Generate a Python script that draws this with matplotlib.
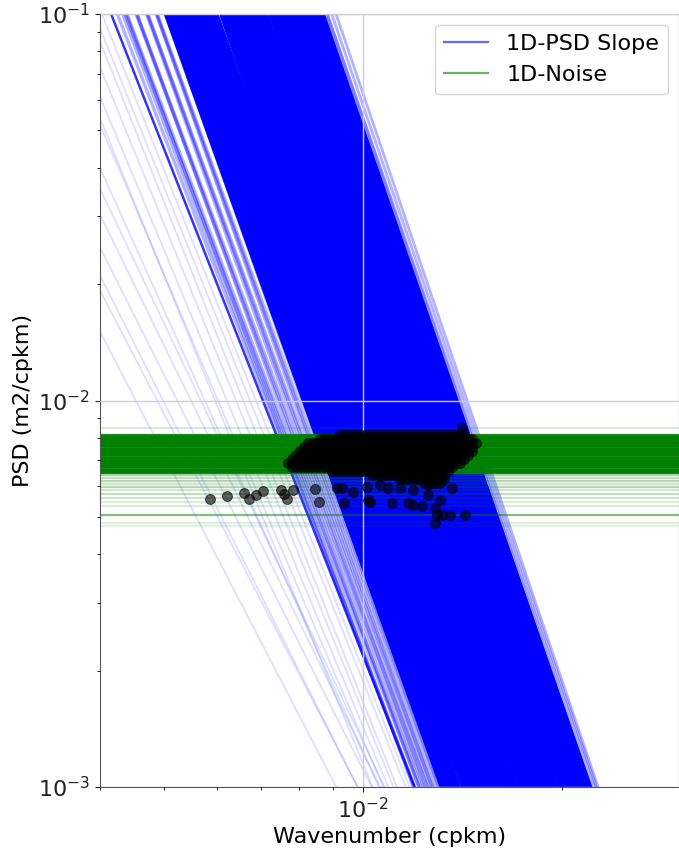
import numpy as np
import matplotlib
matplotlib.use("Agg")
import matplotlib.pyplot as plt
from matplotlib.lines import Line2D
from matplotlib.ticker import NullFormatter

# wavenumber range of the fitted spectra (cpkm)
k_range = np.array([0.004, 0.03])

# fitted 1D-PSD slopes: wavenumber where each fit crosses 1e-2 m2/cpkm, and its spectral slope
faint_k0 = [0.00453, 0.00488, 0.00498, 0.00523, 0.00549, 0.00568, 0.00576,
            0.00597, 0.00603, 0.00622, 0.00642, 0.00658, 0.00674, 0.00688]
faint_slope = [3.3, 3.3, 3.4, 3.4, 3.5, 3.6, 3.8, 4.2, 4.0, 4.1, 4.2, 4.3, 4.25, 4.3]

steep_k0 = [0.00705]
steep_slope = [4.36]

mid_k0 = [0.00713, 0.00718, 0.00723, 0.00728, 0.00733, 0.00743, 0.00748, 0.00754, 0.00764,
          0.00770, 0.00775, 0.00786, 0.00791, 0.00797, 0.00808, 0.00819, 0.00831, 0.00842]
mid_slope = [4.45, 4.55, 4.60, 4.50, 4.50, 4.70, 4.60, 4.55, 4.75, 4.70, 4.65, 4.80,
             4.75, 4.70, 4.85, 4.75, 4.80, 4.85]

core_k0 = [0.00817, 0.00826, 0.00834, 0.00843, 0.00852, 0.00861, 0.00870, 0.00879, 0.00888, 0.00897,
           0.00907, 0.00916, 0.00926, 0.00935, 0.00945, 0.00955, 0.00965, 0.00975, 0.00985, 0.00996,
           0.01006, 0.01017, 0.01027, 0.01038, 0.01049, 0.01060, 0.01071, 0.01082, 0.01094, 0.01105,
           0.01117, 0.01128, 0.01140, 0.01152, 0.01164, 0.01176, 0.01189, 0.01201, 0.01214, 0.01227,
           0.01240, 0.01253, 0.01266, 0.01279, 0.01292, 0.01306, 0.01320, 0.01333, 0.01347, 0.01362,
           0.01376]
core_slope = [4.80, 4.85, 4.78, 4.90, 4.82, 4.88, 4.95, 4.80, 4.86, 4.92,
              4.84, 4.98, 4.81, 4.89, 4.93, 4.85, 4.79, 4.96, 4.88, 4.83,
              4.91, 4.99, 4.86, 4.82, 4.94, 4.88, 5.00, 4.84, 4.90, 4.97,
              4.87, 4.92, 4.85, 5.01, 4.89, 4.94, 4.88, 4.96, 4.91, 5.02,
              4.87, 4.95, 4.99, 4.90, 4.93, 5.00, 4.94, 4.97, 4.92, 4.98,
              4.95]

edge_k0 = [0.01388, 0.01398, 0.01405, 0.01420, 0.01435]
edge_slope = [4.98, 5.0, 4.95, 5.0, 5.05]

# noise floor levels (m2/cpkm)
noise_dense = [0.00814, 0.00807, 0.00800, 0.00793, 0.00786, 0.00779, 0.00772, 0.00765,
               0.00758, 0.00751, 0.00744, 0.00738, 0.00731, 0.00725, 0.00718, 0.00712,
               0.00706, 0.00699, 0.00693, 0.00687, 0.00681, 0.00675, 0.00669, 0.00663,
               0.00657, 0.00653]
noise_sparse = [0.00849, 0.00642, 0.00630, 0.00618, 0.00607, 0.00597, 0.00587, 0.00573,
                0.00560, 0.00546, 0.00533, 0.00505, 0.00482, 0.00474]
noise_alpha = [0.15, 0.35, 0.25, 0.3, 0.2, 0.3, 0.2, 0.25, 0.2, 0.15, 0.15, 0.5, 0.12, 0.12]

# crossing points of slope fits and noise floor: dense cluster, one row per PSD level
cloud_grid = [0.00770, 0.00781, 0.00792, 0.00802, 0.00814, 0.00825, 0.00837, 0.00848, 0.00860,
              0.00872, 0.00884, 0.00896, 0.00909, 0.00922, 0.00936, 0.00949, 0.00962, 0.00975,
              0.00989, 0.01003, 0.01017, 0.01031, 0.01046, 0.01060, 0.01075, 0.01090, 0.01105,
              0.01120, 0.01136, 0.01152, 0.01169, 0.01185, 0.01202, 0.01219, 0.01236, 0.01253,
              0.01270, 0.01288, 0.01306, 0.01324, 0.01343, 0.01362, 0.01381, 0.01400, 0.01420,
              0.01440, 0.01460, 0.01480]
cloud_levels = [0.00814, 0.00795, 0.00776, 0.00758, 0.00740, 0.00723, 0.00706,
                0.00689, 0.00673, 0.00657, 0.00642, 0.00626, 0.00612]
cloud_k_lo = [0.00922, 0.00860, 0.00825, 0.00810, 0.00800, 0.00790, 0.00780,
              0.00770, 0.00780, 0.00890, 0.01020, 0.01130, 0.01220]
cloud_k_hi = [0.01430, 0.01470, 0.01480, 0.01470, 0.01460, 0.01440, 0.01430,
              0.01410, 0.01380, 0.01360, 0.01340, 0.01330, 0.01310]

# scattered crossing points below the cluster
outlier_k = [0.00586, 0.00622, 0.00661, 0.00672, 0.00688, 0.00705, 0.00751, 0.00759, 0.00767,
             0.00783, 0.00845, 0.00857, 0.00913, 0.00936, 0.00929, 0.00965, 0.01013, 0.01017,
             0.01024, 0.01060, 0.01090, 0.01105, 0.01136, 0.01169, 0.01189, 0.01189, 0.01227,
             0.01253, 0.01253, 0.01284, 0.01293, 0.01315, 0.01352, 0.01425, 0.01284, 0.01306,
             0.01362, 0.01410]
outlier_psd = [0.00556, 0.00566, 0.00576, 0.00556, 0.00570, 0.00583, 0.00587, 0.00573, 0.00556,
               0.00587, 0.00590, 0.00546, 0.00594, 0.00543, 0.00594, 0.00580, 0.00597, 0.00553,
               0.00546, 0.00604, 0.00594, 0.00543, 0.00594, 0.00543, 0.00587, 0.00537, 0.00533,
               0.00604, 0.00570, 0.00527, 0.00505, 0.00505, 0.00505, 0.00505, 0.00482, 0.00553,
               0.00594, 0.00849]

fig = plt.figure(figsize=(6.79, 8.51), dpi=100)
ax = fig.add_axes([0.1473, 0.0752, 0.8527, 0.9083])


def slope_lines(k0s, slopes, alpha, lw):
    for k0, s in zip(k0s, slopes):
        ax.plot(k_range, 1e-2 * (k_range / k0) ** (-s), color="blue", alpha=alpha, lw=lw, zorder=1)


slope_lines(faint_k0, faint_slope, 0.13, 1.3)
slope_lines(mid_k0, mid_slope, 0.3, 2.4)
slope_lines(core_k0, core_slope, 1.0, 5.0)
slope_lines(edge_k0, edge_slope, 0.3, 2.0)
slope_lines(steep_k0, steep_slope, 0.8, 1.8)

for level in noise_dense:
    ax.axhline(level, color="green", alpha=0.92, lw=2.2, zorder=1.5)
for level, a in zip(noise_sparse, noise_alpha):
    ax.axhline(level, color="green", alpha=a, lw=1.6, zorder=1.5)

cloud_k = []
cloud_psd = []
for level, lo, hi in zip(cloud_levels, cloud_k_lo, cloud_k_hi):
    row = [k for k in cloud_grid if lo <= k <= hi]
    cloud_k += row
    cloud_psd += [level] * len(row)
ax.scatter(cloud_k + outlier_k, cloud_psd + outlier_psd, s=50, color="black",
           alpha=0.6, edgecolors="black", linewidths=0.8, zorder=3)

ax.set_xscale("log")
ax.set_yscale("log")
ax.set_xlim(k_range[0], k_range[1])
ax.set_ylim(1e-3, 1e-1)
ax.xaxis.set_minor_formatter(NullFormatter())
ax.yaxis.set_minor_formatter(NullFormatter())
ax.grid(True, which="major", color="#cfcfcf", lw=1.0, zorder=2.5)
ax.set_axisbelow(False)
for sp in ax.spines.values():
    sp.set_color("#555555")
ax.tick_params(labelsize=16, colors="#222222")

ax.set_xlabel("Wavenumber (cpkm)", fontsize=16)
ax.set_ylabel("PSD (m2/cpkm)", fontsize=16)

handles = [Line2D([], [], color="blue", alpha=0.6, lw=1.6),
           Line2D([], [], color="green", alpha=0.6, lw=1.6)]
ax.legend(handles, ["1D-PSD Slope", "1D-Noise"], loc="upper right", fontsize=16)

fig.savefig("out.png", dpi=100)
